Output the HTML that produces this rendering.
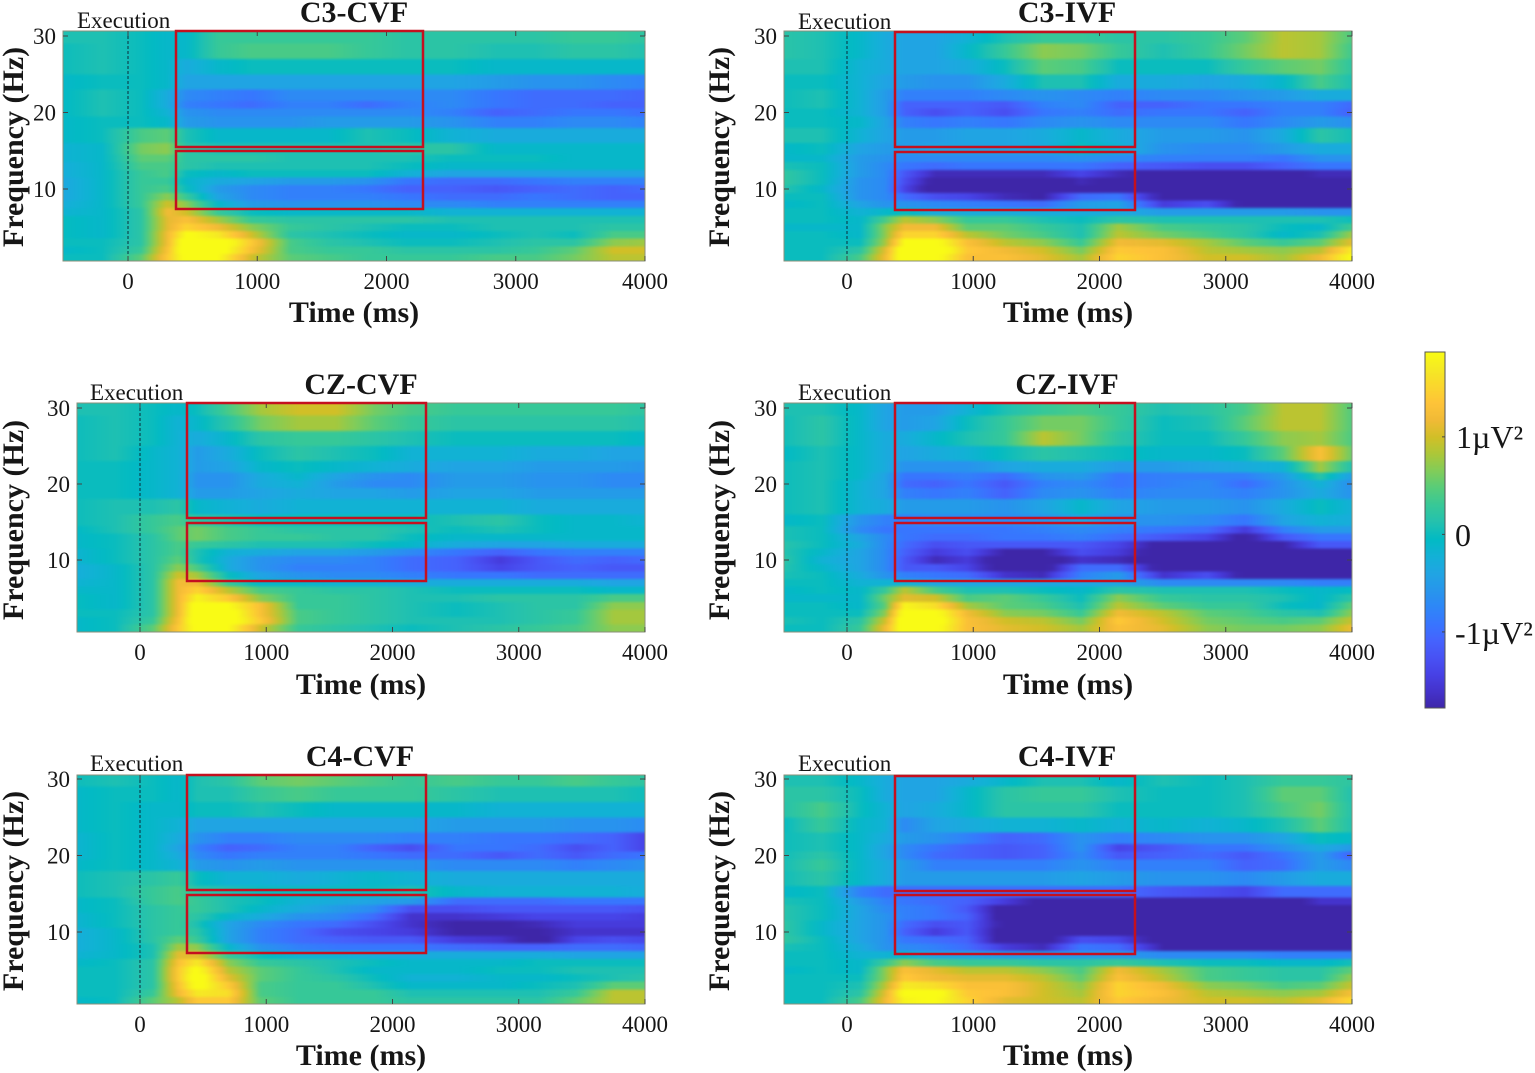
<!DOCTYPE html>
<html lang="en">
<head>
<meta charset="utf-8">
<title>Time-frequency maps</title>
<style>
html,body{margin:0;padding:0;background:#fff;}
svg{display:block;}
text{font-family:"Liberation Serif",serif;fill:#161616;}
.title,.axis-label{font-weight:bold;font-size:30px;text-anchor:middle;}
.exec{font-size:23px;}
.tick{font-size:23px;}
.cb{font-size:32px;}
.box{fill:none;stroke:#c4101f;stroke-width:2.5;}
</style>
</head>
<body>
<svg id="fig" width="1535" height="1073" viewBox="0 0 1535 1073" xmlns="http://www.w3.org/2000/svg">
<defs id="defs">
<filter id="soft" x="-5%" y="-5%" width="110%" height="110%" color-interpolation-filters="sRGB"><feGaussianBlur stdDeviation="1.5 1.2"/></filter>
</defs>
<g id="panels"></g>
<g>
<text class="title" x="354" y="22">C3-CVF</text>
<text class="title" x="1067" y="22">C3-IVF</text>
<text class="title" x="361" y="394">CZ-CVF</text>
<text class="title" x="1067" y="394">CZ-IVF</text>
<text class="title" x="360" y="766">C4-CVF</text>
<text class="title" x="1067" y="766">C4-IVF</text>
</g>
<g>
<text class="exec" x="77" y="28">Execution</text>
<text class="exec" x="798" y="29">Execution</text>
<text class="exec" x="90" y="400">Execution</text>
<text class="exec" x="798" y="400">Execution</text>
<text class="exec" x="90" y="771">Execution</text>
<text class="exec" x="798" y="771">Execution</text>
</g>
<g>
<text class="axis-label" x="354" y="322">Time (ms)</text>
<text class="axis-label" x="1068" y="322">Time (ms)</text>
<text class="axis-label" x="361" y="694">Time (ms)</text>
<text class="axis-label" x="1068" y="694">Time (ms)</text>
<text class="axis-label" x="361" y="1065">Time (ms)</text>
<text class="axis-label" x="1068" y="1065">Time (ms)</text>
</g>
<g>
<text class="axis-label" transform="translate(23,147) rotate(-90)">Frequency (Hz)</text>
<text class="axis-label" transform="translate(729,147) rotate(-90)">Frequency (Hz)</text>
<text class="axis-label" transform="translate(23,520) rotate(-90)">Frequency (Hz)</text>
<text class="axis-label" transform="translate(729,520) rotate(-90)">Frequency (Hz)</text>
<text class="axis-label" transform="translate(23,891) rotate(-90)">Frequency (Hz)</text>
<text class="axis-label" transform="translate(729,891) rotate(-90)">Frequency (Hz)</text>
</g>
<g>
<rect class="box" x="176" y="31" width="247" height="116"/>
<rect class="box" x="176" y="151" width="247" height="58"/>
<rect class="box" x="895" y="32" width="240" height="115"/>
<rect class="box" x="895" y="152" width="240" height="58"/>
<rect class="box" x="187" y="403" width="239" height="115"/>
<rect class="box" x="187" y="523" width="239" height="58"/>
<rect class="box" x="895" y="403" width="240" height="115"/>
<rect class="box" x="895" y="523" width="240" height="58"/>
<rect class="box" x="187" y="775" width="239" height="115"/>
<rect class="box" x="187" y="895" width="239" height="58"/>
<rect class="box" x="895" y="776" width="240" height="115"/>
<rect class="box" x="895" y="895" width="240" height="59"/>
</g>
<g id="colorbar"></g>
<g>
<text class="cb" x="1456" y="448">1µV²</text>
<text class="cb" x="1455" y="546">0</text>
<text class="cb" x="1455" y="644">-1µV²</text>
</g>
</svg>
<script>
// Time axis (ms) and frequency axis (Hz) of the heatmap samples
const times = [-500,-200,100,300,450,700,950,1250,1550,1850,2150,2500,2850,3150,3450,3750,4000];
const freqs = [30,28,26,24,22,21,20,19,17,15,14,13,12,11,10,9,8,7,6,5,4,3,2,1];
const xTickValues = [0,1000,2000,3000,4000];
const yTickValues = [30,20,10];
const colorbarTicks = [10,0,-10];
const colorMin = -17.8;
const colorMax = 18.7;

// Power values in tenths of a uV^2; one row per frequency, one column per time
const c3Cvf = [
[1,1,0,-1,-1,3,3,3,3,3,2,2,2,2,3,3,2],
[0,1,0,-1,-1,3,4,4,4,3,2,2,1,1,2,2,1],
[0,1,0,-1,-3,-1,0,0,0,0,0,0,-1,-1,-1,-1,-1],
[-1,0,0,-1,-4,-4,-4,-4,-4,-4,-4,-4,-5,-6,-6,-7,-8],
[-1,1,0,-3,-7,-8,-9,-7,-7,-7,-7,-7,-9,-10,-10,-10,-11],
[-1,1,0,-3,-8,-9,-10,-8,-8,-10,-8,-7,-9,-10,-10,-11,-11],
[-1,1,0,-2,-6,-7,-7,-7,-7,-7,-7,-8,-11,-10,-9,-9,-10],
[-1,0,0,-1,-5,-6,-6,-6,-5,-5,-5,-6,-8,-8,-7,-7,-8],
[-1,0,4,5,1,-1,-1,-1,-1,1,0,-2,-3,-3,-3,-3,-3],
[-2,-1,6,7,2,1,1,1,1,1,2,2,-1,-1,-1,-1,-1],
[-2,-1,5,5,2,2,2,1,1,1,1,0,0,0,-1,-1,-1],
[-3,-1,4,4,2,1,1,1,1,1,0,-1,-1,-1,-1,-1,-1],
[-3,-1,3,4,0,-1,0,0,0,0,-2,-4,-4,-4,-4,-4,-4],
[-4,-1,3,3,-1,-3,-4,-5,-5,-6,-9,-10,-10,-9,-8,-8,-8],
[-4,-1,3,4,0,-5,-7,-8,-8,-9,-11,-11,-12,-11,-10,-11,-10],
[-4,-1,3,7,3,-4,-7,-8,-8,-8,-9,-10,-10,-9,-10,-11,-11],
[-3,-1,3,10,7,-1,-5,-6,-6,-6,-7,-7,-8,-8,-8,-8,-8],
[-2,-1,2,12,10,3,0,-1,-1,-1,-1,-2,-2,-2,-2,-2,-2],
[0,-1,2,11,13,8,3,2,2,2,2,1,1,1,1,1,1],
[0,-1,2,11,15,12,7,3,2,1,0,0,1,1,1,2,2],
[0,-1,2,12,19,17,10,2,1,0,-1,-1,0,1,0,4,4],
[0,0,2,12,22,22,14,4,2,1,0,0,1,2,2,7,8],
[-1,0,3,13,22,21,13,4,3,3,2,2,2,3,5,10,10],
[0,0,5,14,20,19,10,5,4,3,3,3,4,4,6,9,9]
];
const c3Ivf = [
[2,1,-1,-3,-4,-4,-2,1,3,3,2,2,3,5,9,8,3],
[2,1,-1,-3,-4,-4,-1,3,7,6,3,1,3,6,9,8,2],
[1,1,-2,-3,-4,-4,-3,0,5,4,0,0,0,3,5,6,1],
[0,0,-2,-4,-5,-6,-6,-3,1,1,-3,-3,-4,-3,-1,4,0],
[0,1,-2,-5,-8,-8,-8,-7,-6,-7,-8,-7,-7,-6,-5,-3,-3],
[0,1,-2,-5,-11,-11,-11,-12,-8,-7,-11,-11,-9,-9,-8,-8,-11],
[0,0,-2,-5,-11,-13,-11,-13,-9,-8,-10,-9,-9,-11,-8,-8,-12],
[0,0,-1,-4,-8,-9,-8,-9,-7,-6,-7,-7,-7,-9,-7,-5,-7],
[1,1,-2,-4,-5,-5,-4,-4,-3,-1,-3,-5,-5,-6,-3,2,0],
[-1,0,-4,-5,-5,-4,-4,-4,-3,0,-2,-6,-7,-7,-5,-3,-3],
[-1,-1,-5,-6,-7,-7,-7,-7,-7,-6,-7,-8,-8,-8,-9,-6,-6],
[1,0,-5,-7,-9,-10,-9,-9,-9,-9,-11,-12,-13,-13,-11,-9,-9],
[3,0,-5,-7,-12,-17,-17,-17,-17,-14,-17,-19,-19,-19,-19,-17,-17],
[3,0,-6,-7,-13,-19,-20,-20,-20,-17,-19,-20,-20,-20,-20,-20,-20],
[2,-1,-6,-7,-14,-20,-20,-20,-20,-18,-18,-20,-20,-20,-20,-20,-20],
[0,0,-6,-7,-10,-13,-14,-17,-18,-10,-9,-19,-20,-20,-20,-20,-20],
[-1,0,-4,-6,-6,-7,-8,-9,-10,-5,-4,-15,-13,-19,-20,-20,-20],
[0,0,-2,-1,0,-3,-3,-3,-3,-3,-3,-5,-5,-5,-5,-6,-6],
[0,0,-1,4,9,7,3,3,1,0,2,1,1,1,1,1,0],
[-1,-1,-1,7,12,12,5,5,3,1,8,4,3,2,0,-1,5],
[0,0,-1,7,15,15,9,6,4,1,9,6,4,2,-1,1,10],
[0,0,0,8,19,20,13,9,7,3,12,11,8,5,3,5,13],
[0,0,2,11,22,22,14,12,10,6,14,13,9,8,7,9,20],
[0,0,4,12,22,20,13,13,11,8,15,13,10,10,8,12,22]
];
const czCvf = [
[1,1,0,-1,0,4,8,10,10,6,4,3,3,3,3,3,2],
[0,1,0,-2,-1,2,6,8,8,5,3,2,2,2,2,2,1],
[0,1,0,-2,-3,-1,2,3,3,2,1,0,0,0,0,0,-1],
[0,1,-1,-2,-5,-3,0,2,1,0,-2,-2,-2,-3,-3,-4,-4],
[0,0,-1,-2,-5,-4,-1,0,-1,-2,-3,-4,-4,-5,-5,-5,-6],
[0,0,-1,-2,-6,-6,-3,-1,-4,-6,-7,-5,-5,-6,-6,-7,-7],
[0,0,-1,-2,-6,-6,-3,-2,-5,-7,-7,-5,-5,-6,-6,-7,-7],
[0,0,-1,-2,-5,-5,-4,-3,-4,-4,-5,-4,-4,-5,-5,-5,-5],
[0,1,1,2,-1,-2,-3,-2,-2,-2,-2,-2,-2,-3,-3,-3,-3],
[0,1,3,4,2,1,0,0,0,0,0,1,2,0,-1,-1,-2],
[-1,1,3,5,6,4,3,2,2,2,1,0,1,0,-1,-1,-1],
[-1,0,2,5,6,4,3,3,2,2,0,-1,-1,-1,-1,-1,-1],
[-1,0,2,4,3,2,1,1,1,0,-1,-3,-4,-4,-3,-3,-3],
[-2,0,2,4,1,-2,-3,-4,-4,-5,-7,-9,-11,-9,-8,-8,-8],
[-2,0,2,5,1,-3,-6,-7,-7,-8,-10,-11,-15,-12,-10,-11,-10],
[-3,-1,2,7,4,-3,-6,-8,-8,-8,-10,-11,-14,-12,-11,-12,-12],
[-3,-1,2,10,8,0,-4,-6,-7,-7,-8,-9,-9,-10,-10,-10,-10],
[-2,-1,2,12,12,3,-1,-1,-2,-2,-3,-3,-3,-3,-3,-4,-4],
[-1,-1,2,12,15,9,4,3,2,2,1,0,0,0,0,-1,-1],
[0,-1,2,12,18,14,7,3,3,2,1,1,2,2,2,4,4],
[0,-1,2,12,21,19,13,3,3,2,1,0,1,2,2,7,7],
[0,0,2,12,22,21,13,4,3,2,1,0,1,2,3,8,8],
[-1,0,3,13,22,21,14,4,3,2,1,1,1,2,3,8,8],
[-1,0,5,14,20,19,10,3,2,1,0,1,2,3,4,7,7]
];
const czIvf = [
[1,1,-1,-4,-5,-5,-2,1,3,4,3,1,2,4,9,9,3],
[0,2,-1,-4,-5,-4,0,3,6,6,3,0,1,5,9,9,3],
[0,2,-1,-3,-3,-1,1,3,9,6,2,0,0,3,7,8,3],
[-1,1,-1,-3,-4,-3,-2,0,2,1,0,-1,-1,0,5,13,3],
[0,1,-1,-3,-6,-6,-6,-4,-3,-3,-5,-5,-4,-3,-2,8,-1],
[0,1,-1,-4,-9,-9,-8,-10,-6,-5,-9,-8,-8,-8,-5,2,-7],
[0,1,-2,-4,-10,-11,-9,-12,-8,-7,-9,-8,-7,-10,-6,-2,-8],
[0,1,-2,-4,-8,-9,-8,-11,-7,-6,-8,-7,-7,-8,-6,-3,-7],
[0,1,-2,-3,-5,-5,-5,-6,-4,-1,-4,-5,-5,-6,-3,0,-3],
[-1,0,-6,-8,-8,-7,-7,-7,-6,-4,-6,-6,-7,-9,-4,-2,-3],
[1,0,-7,-9,-9,-9,-9,-9,-8,-7,-8,-9,-10,-15,-8,-5,-5],
[1,0,-4,-7,-9,-10,-10,-9,-9,-8,-10,-12,-14,-19,-12,-9,-9],
[2,0,-3,-7,-10,-13,-12,-12,-12,-12,-14,-19,-19,-20,-18,-12,-12],
[2,-1,-4,-7,-11,-15,-13,-18,-18,-13,-15,-20,-20,-20,-20,-19,-19],
[3,-2,-4,-7,-12,-17,-15,-20,-20,-16,-17,-20,-20,-20,-20,-20,-20],
[2,-1,-4,-7,-12,-12,-14,-20,-20,-10,-10,-20,-20,-20,-20,-20,-20],
[1,0,-3,-6,-8,-9,-10,-16,-17,-8,-5,-16,-13,-19,-20,-20,-20],
[0,0,-2,-2,-2,-4,-4,-4,-4,-4,-4,-7,-7,-7,-7,-8,-8],
[-1,0,-1,3,9,4,1,1,0,-1,2,1,1,1,0,-1,0],
[-1,-1,-1,6,11,10,4,5,3,0,7,3,2,2,1,-1,3],
[0,0,-1,5,18,16,8,5,4,1,9,5,3,3,0,-1,7],
[0,0,0,7,21,20,12,7,6,3,12,9,5,4,2,1,9],
[1,0,2,10,22,21,13,10,9,6,14,10,6,5,4,5,11],
[0,0,3,12,21,20,13,11,10,8,13,11,7,6,6,7,13]
];
const c4Cvf = [
[0,1,0,-1,1,2,5,6,5,4,3,4,3,3,4,3,2],
[-1,0,0,-1,1,1,3,4,3,3,3,2,1,1,1,1,0],
[-1,0,-1,-1,0,0,1,0,-1,-1,-1,-1,-2,-2,-2,-2,-2],
[-1,0,-1,-2,-4,-4,-4,-4,-4,-4,-4,-5,-5,-5,-6,-6,-7],
[-2,0,-1,-3,-6,-8,-8,-7,-7,-7,-8,-8,-9,-9,-10,-11,-15],
[-2,0,-1,-4,-8,-11,-10,-8,-8,-11,-13,-9,-9,-10,-13,-11,-15],
[-2,0,-1,-3,-7,-9,-8,-8,-8,-9,-10,-10,-12,-10,-12,-10,-9],
[-1,0,-1,-2,-5,-6,-5,-6,-6,-6,-6,-7,-7,-7,-8,-7,-6],
[0,1,2,3,0,-2,-2,-3,-2,-1,-2,-3,-3,-3,-3,-3,-3],
[0,1,3,4,2,1,0,0,0,0,1,-1,-2,-2,-2,-2,-3],
[-1,0,3,4,3,1,0,-2,-3,-4,-5,-10,-10,-10,-9,-9,-9],
[-1,0,2,3,3,1,-1,-3,-5,-7,-13,-13,-12,-12,-12,-12,-13],
[-2,0,2,3,2,-1,-3,-6,-7,-10,-16,-16,-15,-14,-14,-14,-15],
[-2,0,2,3,1,-4,-7,-9,-10,-13,-16,-18,-18,-17,-15,-15,-15],
[-3,-1,2,3,2,-4,-8,-10,-13,-14,-15,-18,-18,-18,-16,-16,-16],
[-3,-1,2,5,3,-4,-8,-10,-11,-12,-12,-15,-16,-19,-14,-13,-14],
[-3,-1,1,8,7,-1,-6,-8,-9,-9,-9,-10,-11,-11,-10,-10,-11],
[-2,-1,1,11,11,3,0,-2,-2,-3,-3,-3,-3,-3,-4,-4,-4],
[-1,0,2,13,17,7,3,2,1,0,-1,-1,-1,0,0,0,0],
[0,0,2,14,20,9,5,3,1,-1,-1,-1,0,0,1,1,1],
[0,0,2,14,21,11,5,3,2,0,-2,-2,-1,-1,0,1,2],
[0,0,2,13,20,14,4,3,3,1,-1,-1,-1,0,1,5,5],
[0,0,3,12,17,16,4,3,3,3,1,1,1,1,3,9,9],
[-1,0,5,9,14,14,5,3,3,3,2,2,2,2,5,9,9]
];
const c4Ivf = [
[1,1,-1,-3,-4,-4,-3,-1,1,1,-1,1,0,1,3,3,2],
[2,2,0,-3,-4,-4,-1,2,3,3,1,0,0,1,5,5,0],
[1,4,0,-2,-4,-3,-1,2,2,2,0,0,0,1,4,6,0],
[-1,3,-1,-2,-7,-4,-3,-2,-2,-1,-2,-1,-2,-1,1,5,0],
[0,1,-1,-3,-5,-6,-8,-11,-10,-6,-8,-7,-6,-6,-4,0,-1],
[0,1,-1,-4,-7,-9,-11,-12,-11,-6,-14,-12,-9,-9,-6,-3,-6],
[0,2,-1,-4,-7,-10,-11,-12,-11,-7,-12,-11,-10,-12,-9,-5,-13],
[0,3,-1,-3,-5,-8,-8,-8,-8,-6,-8,-8,-8,-11,-10,-5,-8],
[0,2,-1,-3,-5,-5,-5,-5,-5,-4,-5,-6,-6,-7,-5,-3,-3],
[-1,0,-8,-10,-10,-10,-10,-10,-10,-10,-10,-12,-13,-14,-10,-10,-10],
[1,0,-5,-8,-9,-10,-11,-15,-19,-19,-19,-20,-20,-20,-20,-16,-16],
[2,0,-4,-7,-8,-9,-12,-20,-20,-20,-20,-20,-20,-20,-20,-20,-20],
[2,0,-4,-6,-8,-9,-11,-20,-20,-20,-20,-20,-20,-20,-20,-20,-20],
[3,-1,-4,-6,-10,-13,-12,-19,-20,-20,-20,-20,-20,-20,-20,-20,-20],
[3,-1,-4,-6,-11,-15,-12,-20,-20,-19,-18,-20,-20,-20,-20,-20,-20],
[3,0,-4,-6,-9,-10,-11,-20,-20,-13,-14,-20,-20,-20,-20,-20,-20],
[1,0,-3,-6,-7,-8,-10,-15,-17,-9,-10,-18,-20,-20,-20,-20,-20],
[0,0,-2,-2,-1,-4,-4,-5,-5,-5,-5,-7,-7,-7,-8,-8,-8],
[0,0,-1,3,7,4,3,3,2,2,3,1,0,0,-1,-1,1],
[-1,0,-1,7,13,11,9,9,7,4,12,8,4,3,2,2,6],
[0,0,0,7,14,12,11,11,9,5,13,9,4,3,2,2,9],
[0,0,1,9,17,16,13,13,10,7,15,12,7,6,4,5,11],
[0,0,2,11,20,20,14,13,10,8,15,13,9,8,7,8,14],
[0,0,4,12,18,19,15,11,10,9,14,12,10,10,9,11,17]
];

const parula = [[62,38,168],[68,50,203],[71,65,229],[72,82,244],[69,99,253],[56,117,254],[46,135,247],[39,150,235],[32,165,227],[18,177,214],[2,186,195],[36,193,174],[55,200,151],[87,204,122],[129,204,89],[171,199,57],[209,191,39],[240,186,54],[254,195,56],[250,214,45],[245,233,36],[249,251,21]];

const NS = 'http://www.w3.org/2000/svg';
function svgEl(tag, attrs, parent) {
  const el = document.createElementNS(NS, tag);
  for (const k in attrs) el.setAttribute(k, attrs[k]);
  if (parent) parent.appendChild(el);
  return el;
}
function colorOf(v) {
  const t = Math.max(0, Math.min(1, (v - colorMin) / (colorMax - colorMin))) * (parula.length - 1);
  const i = Math.min(parula.length - 2, Math.floor(t));
  const f = t - i;
  const c = [0, 1, 2].map(k => Math.round(parula[i][k] + (parula[i + 1][k] - parula[i][k]) * f));
  return 'rgb(' + c.join(',') + ')';
}

const panelConfigs = [
  {id:'c3-cvf', values:c3Cvf, left:63,  x0:128, x4000:645,  top:31,  bottom:261,  y30:36,  y10:189},
  {id:'c3-ivf', values:c3Ivf, left:784, x0:847, x4000:1352, top:31,  bottom:261,  y30:36,  y10:189},
  {id:'cz-cvf', values:czCvf, left:77,  x0:140, x4000:645,  top:403, bottom:632,  y30:408, y10:560},
  {id:'cz-ivf', values:czIvf, left:784, x0:847, x4000:1352, top:403, bottom:632,  y30:408, y10:560},
  {id:'c4-cvf', values:c4Cvf, left:77,  x0:140, x4000:645,  top:775, bottom:1004, y30:779, y10:932},
  {id:'c4-ivf', values:c4Ivf, left:784, x0:847, x4000:1352, top:775, bottom:1004, y30:779, y10:932}
];

const defs = document.getElementById('defs');
const panelsRoot = document.getElementById('panels');
let gradCount = 0;

panelConfigs.forEach(function (p) {
  const xScale = t => p.x0 + t * (p.x4000 - p.x0) / 4000;
  const yScale = f => p.y30 + (30 - f) * (p.y10 - p.y30) / 20;
  const width = p.x4000 - p.left;
  const height = p.bottom - p.top;

  const panel = svgEl('g', {}, panelsRoot);
  
  

  const clip = svgEl('clipPath', {id: 'clip-' + p.id}, defs);
  svgEl('rect', {x: p.left, y: p.top, width: width, height: height}, clip);

  const clipped = svgEl('g', {'clip-path': 'url(#clip-' + p.id + ')'}, panel);
  const cells = svgEl('g', {filter: 'url(#soft)'}, clipped);
  
  

  freqs.forEach(function (f, r) {
    const yTop = r === 0 ? p.top - 10 : yScale((freqs[r - 1] + f) / 2);
    const yBot = r === freqs.length - 1 ? p.bottom + 10 : yScale((freqs[r + 1] + f) / 2);
    for (let c = 0; c < times.length - 1; c++) {
      const a = p.values[r][c];
      const b = p.values[r][c + 1];
      const id = 'g' + (gradCount++);
      const grad = svgEl('linearGradient', {id: id, x1: 0, x2: 1, y1: 0, y2: 0}, defs);
      for (let s = 0; s <= 4; s++) {
        svgEl('stop', {offset: s / 4, 'stop-color': colorOf(a + (b - a) * s / 4)}, grad);
      }
      const xa = Math.round(xScale(times[c])) - (c === 0 ? 10 : 0);
      const xb = Math.round(xScale(times[c + 1])) + (c === times.length - 2 ? 10 : 0);
      const cell = svgEl('rect', {x: xa, y: yTop, width: xb - xa + 0.5, height: yBot - yTop + 0.5, fill: 'url(#' + id + ')', 'shape-rendering': 'crispEdges'}, cells);
      
      
    }
  });

  const zero = svgEl('line', {x1: xScale(0), x2: xScale(0), y1: p.top, y2: p.bottom, stroke: '#0b2b3a', 'stroke-width': 1, 'stroke-dasharray': '3 2'}, panel);
  
  

  const frame = svgEl('rect', {x: p.left, y: p.top, width: width, height: height, fill: 'none', stroke: '#8a8f7a', 'stroke-width': 1}, panel);
  
  

  xTickValues.forEach(function (t) {
    const x = xScale(t);
    const tickA = svgEl('line', {x1: x, x2: x, y1: p.bottom, y2: p.bottom - 5, stroke: '#444', 'stroke-width': 1}, panel);
    
    
    const tickB = svgEl('line', {x1: x, x2: x, y1: p.top, y2: p.top + 5, stroke: '#444', 'stroke-width': 1}, panel);
    
    
    const label = svgEl('text', {x: x, y: p.bottom + 28, 'text-anchor': 'middle', class: 'tick'}, panel);
    
    
    label.textContent = String(t);
  });
  yTickValues.forEach(function (f) {
    const y = yScale(f);
    const tickA = svgEl('line', {x1: p.left, x2: p.left + 5, y1: y, y2: y, stroke: '#444', 'stroke-width': 1}, panel);
    
    
    const tickB = svgEl('line', {x1: p.x4000, x2: p.x4000 - 5, y1: y, y2: y, stroke: '#444', 'stroke-width': 1}, panel);
    
    
    const label = svgEl('text', {x: p.left - 7, y: y + 8, 'text-anchor': 'end', class: 'tick'}, panel);
    
    
    label.textContent = String(f);
  });
});

// Colorbar: one slice per level between colorMin and colorMax
const cbRoot = document.getElementById('colorbar');
const cbX = 1425, cbW = 20, cbTop = 352, cbBottom = 708;
const cbY = v => cbBottom - (v - colorMin) * (cbBottom - cbTop) / (colorMax - colorMin);
const cbSteps = 178;
for (let i = 0; i < cbSteps; i++) {
  const v0 = colorMin + (colorMax - colorMin) * i / cbSteps;
  const v1 = colorMin + (colorMax - colorMin) * (i + 1) / cbSteps;
  const slice = svgEl('rect', {x: cbX, y: cbY(v1), width: cbW, height: cbY(v0) - cbY(v1) + 0.5, fill: colorOf((v0 + v1) / 2)}, cbRoot);
  
  
}
const cbFrame = svgEl('rect', {x: cbX, y: cbTop, width: cbW, height: cbBottom - cbTop, fill: 'none', stroke: '#555', 'stroke-width': 1}, cbRoot);


colorbarTicks.forEach(function (v) {
  const tick = svgEl('line', {x1: cbX + cbW - 3, x2: cbX + cbW, y1: cbY(v), y2: cbY(v), stroke: '#444', 'stroke-width': 1}, cbRoot);
  
  
});
</script>
</body>
</html>
